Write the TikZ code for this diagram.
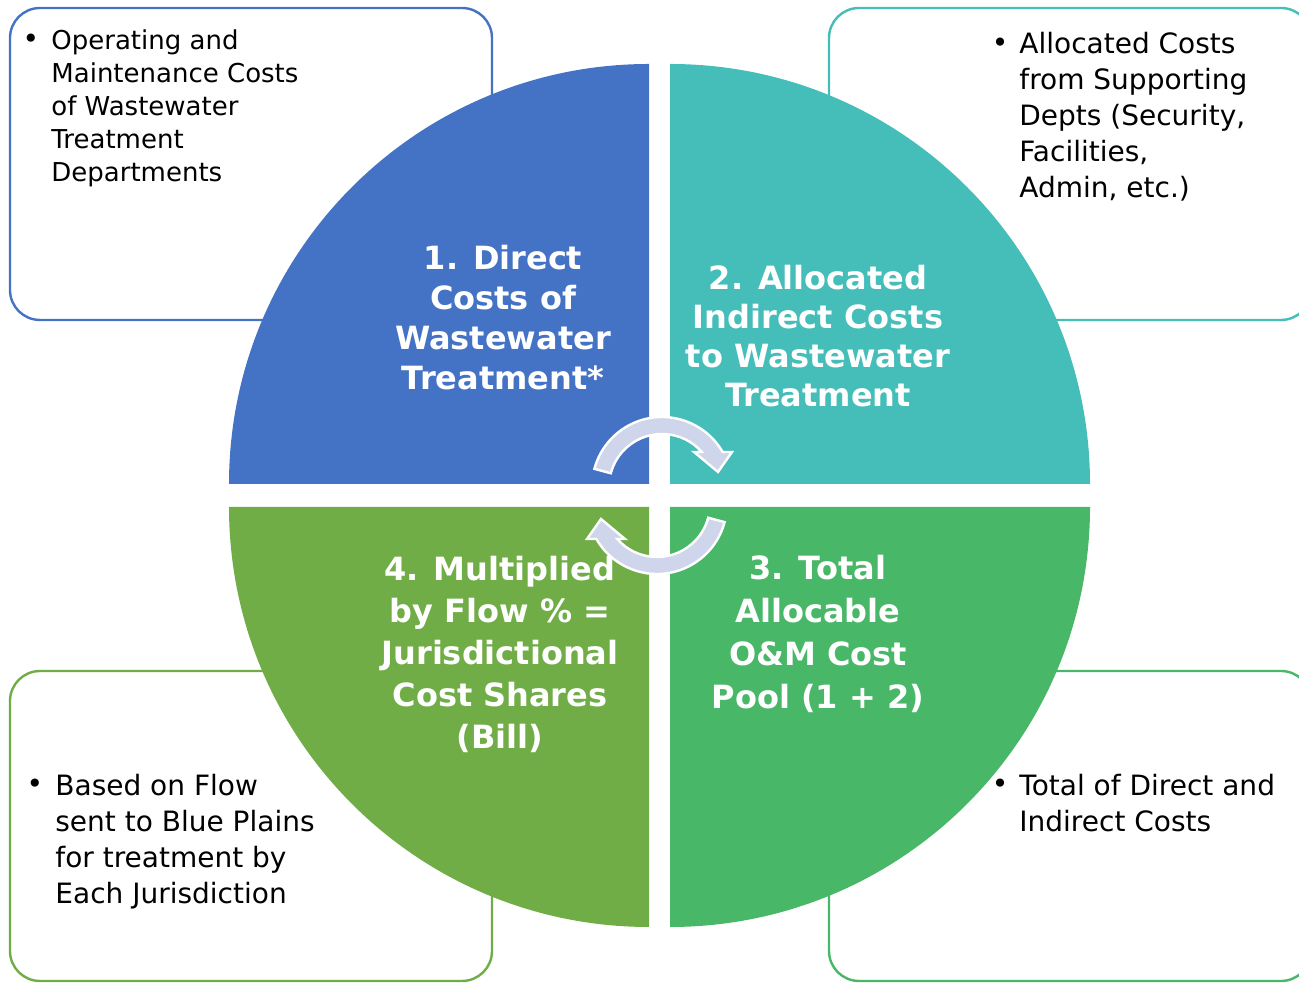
\documentclass[tikz,border=0pt]{standalone}
\usepackage{fontspec}
\setmainfont{DejaVu Sans}
\definecolor{qblue}{HTML}{4472C4}
\definecolor{qteal}{HTML}{45BDB9}
\definecolor{qgreen}{HTML}{48B768}
\definecolor{qlime}{HTML}{70AD47}
\definecolor{qlav}{HTML}{CFD5EA}
\tikzset{
  cardbox/.style={line width=1.2pt,rounded corners=15pt,fill=white},
  qlabel/.style={text=white,align=center,inner sep=0pt},
  bultext/.style={anchor=north west,align=left,inner sep=0pt,font=\fontsize{14}{18}\selectfont},
  bulmark/.style={inner sep=0pt,font=\fontsize{14}{18}\selectfont},
  cycfill/.style={fill=qlav,draw=white,line width=1.2pt,line join=miter},
  cyclearrow/.pic={
    \draw[cycfill] (165:70) arc[start angle=165,end angle=30,radius=70]
      -- (70,35) -- (56,15) -- (32,35)
      -- (41.3:53) arc[start angle=41.3,end angle=165,radius=53] -- cycle;
  }
}
\begin{document}
\begin{tikzpicture}[line cap=round,line join=round,x=0.5pt,y=0.5pt]
\useasboundingbox (0,0) rectangle (1299,983);
\clip (0,0) rectangle (1299,983);
% side boxes
\draw[cardbox,draw=qblue] (10,663) rectangle (492,975);
\draw[cardbox,draw=qteal] (829,663) rectangle (1311,975);
\draw[cardbox,draw=qlime] (10,2) rectangle (492,312);
\draw[cardbox,draw=qgreen] (829,2) rectangle (1311,312);
% quarters
\fill[qblue] (649,499) -- ++(-420,0) arc[start angle=180,end angle=90,radius=420] -- cycle;
\fill[qteal] (670,499) -- ++(0,420) arc[start angle=90,end angle=0,radius=420] -- cycle;
\fill[qlime] (649,476) -- ++(-420,0) arc[start angle=180,end angle=270,radius=420] -- cycle;
\fill[qgreen] (670,476) -- ++(420,0) arc[start angle=0,end angle=-90,radius=420] -- cycle;
% quarter labels
\node[qlabel,font=\bfseries\fontsize{16}{20}\selectfont] (direct) at (503,665) {1. Direct\\Costs of\\Wastewater\\Treatment*};
\node[qlabel,font=\bfseries\fontsize{16}{19.5}\selectfont] (indirect) at (818,647) {2. Allocated\\Indirect Costs\\to Wastewater\\Treatment};
\node[qlabel,font=\bfseries\fontsize{16}{21.5}\selectfont] (pool) at (818,349) {3. Total\\Allocable\\O\&M Cost\\Pool (1 + 2)};
\node[qlabel,font=\bfseries\fontsize{16}{21}\selectfont] (share) at (500,329) {4. Multiplied\\by Flow \% =\\Jurisdictional\\Cost Shares\\(Bill)};
% cycle arrows
\pic (cyctop) at (662,496) {cyclearrow};
\pic[rotate=180] (cycbot) at (657,479) {cyclearrow};
% bullet texts
\node[bulmark] (b1) at (31,942) {•};
\node[bultext,font=\fontsize{13}{16.5}\selectfont] (t1) at (51,954) {Operating and\\Maintenance Costs\\of Wastewater\\Treatment\\Departments};
\node[bulmark] (b2) at (1000,938) {•};
\node[bultext] (t2) at (1019,951) {Allocated Costs\\from Supporting\\Depts (Security,\\Facilities,\\Admin, etc.)};
\node[bulmark] (b4) at (35,197) {•};
\node[bultext] (t4) at (55,209) {Based on Flow\\sent to Blue Plains\\for treatment by\\Each Jurisdiction};
\node[bulmark] (b3) at (1000,197) {•};
\node[bultext] (t3) at (1019,209) {Total of Direct and\\Indirect Costs};
\end{tikzpicture}
\end{document}
